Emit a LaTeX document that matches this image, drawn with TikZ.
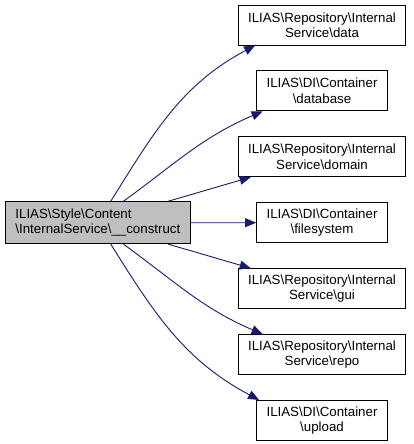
\documentclass[tikz,border=0pt]{standalone}
\usepackage{fontspec}
\setmainfont{Liberation Sans}
\usetikzlibrary{positioning, arrows.meta}
\definecolor{edgeblue}{HTML}{191970}
\definecolor{callergray}{HTML}{BFBFBF}
\newcommand{\bs}{\textbackslash}

\begin{document}
\begin{tikzpicture}[x=1pt, y=1pt,
    member/.style={draw=black, fill=white, line width=0.9pt, minimum height=40pt,
      inner xsep=10pt, align=center, font=\fontsize{13.3}{15.5}\selectfont},
    caller/.style={member, fill=callergray, align=left},
    call/.style={draw=edgeblue, line width=0.9pt, -{Triangle[length=11pt, width=9pt]}}]
  \useasboundingbox (0,0) rectangle (413,-444);

  % the method
  \node[caller, anchor=west, minimum height=42pt] (construct) at (5,-222.7)
    {ILIAS\bs Style\bs Content\\\bs InternalService\bs\_\_construct};

  % what it calls
  \node[member] (data) at (322,-25) {ILIAS\bs Repository\bs Internal\\Service\bs data};
  \node[member, below=25pt of data] (database) {ILIAS\bs DI\bs Container\\\bs database};
  \node[member, below=25pt of database] (domain) {ILIAS\bs Repository\bs Internal\\Service\bs domain};
  \node[member, below=25pt of domain] (filesystem) {ILIAS\bs DI\bs Container\\\bs filesystem};
  \node[member, below=25pt of filesystem] (gui) {ILIAS\bs Repository\bs Internal\\Service\bs gui};
  \node[member, below=25pt of gui] (repo) {ILIAS\bs Repository\bs Internal\\Service\bs repo};
  \node[member, below=25pt of repo] (upload) {ILIAS\bs DI\bs Container\\\bs upload};

  \draw[call] (construct.59) to[out=58, in=208] (data.197);
  \draw[call] (construct.40) to[out=36, in=203] (database.199);
  \draw[call] (construct.17) to[out=16, in=196] (domain.196);
  \draw[call] (construct.east) -- (filesystem.west);
  \draw[call] (construct.-17) to[out=-16, in=164] (gui.164);
  \draw[call] (construct.-40) to[out=-36, in=157] (repo.161);
  \draw[call] (construct.-59) to[out=-58, in=152] (upload.162);
\end{tikzpicture}
\end{document}
